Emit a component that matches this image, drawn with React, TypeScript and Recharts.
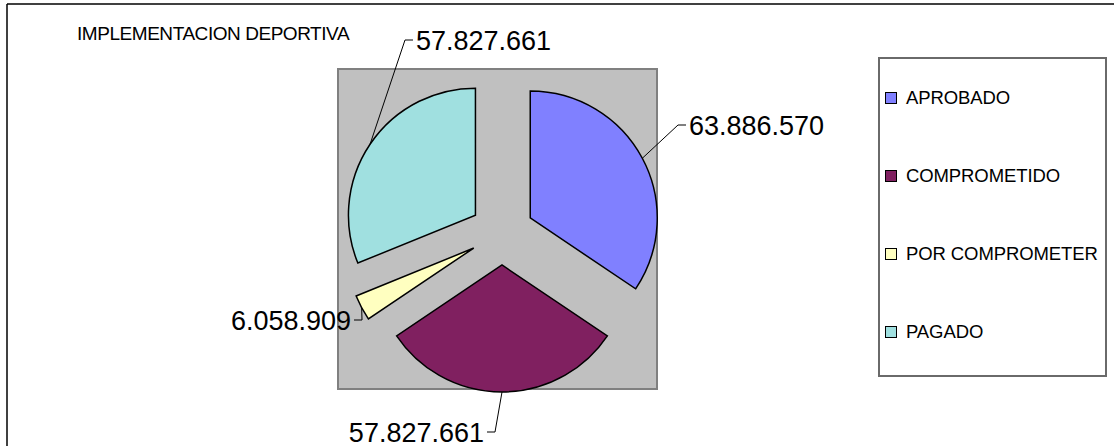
import { PieChart, Pie, Cell, Legend } from 'recharts';

const categories = ['APROBADO', 'COMPROMETIDO', 'POR COMPROMETER', 'PAGADO'];
const amounts = [63886570, 57827661, 6058909, 57827661];
const colors = ['#8080FF', '#802060', '#FFFFC0', '#A0E0E0'];
const chartTitle = 'IMPLEMENTACION DEPORTIVA';

const W = 1114;
const H = 446;
const CX = 497;
const CY = 228;
const R = 127;
const EXPLODE = 32;
const FONT = '"Liberation Sans", Arial, sans-serif';

// where each leader line bends, relative to the pie centre (side: text to the right = 1, left = -1)
const LABEL_ELBOWS = [
  { dx: 176, dy: -108, side: 1 },
  { dx: -7, dy: 199, side: -1 },
  { dx: -140, dy: 87, side: -1 },
  { dx: -97, dy: -193, side: 1 },
];

const total = amounts.reduce((s, v) => s + v, 0);
// middle of each slice, clockwise degrees from 12 o'clock
const midAngles = amounts.map((v, i) => {
  const before = amounts.slice(0, i).reduce((s, x) => s + x, 0);
  return ((before + v / 2) / total) * 360;
});
const offsets = midAngles.map(a => ({
  x: EXPLODE * Math.sin((a * Math.PI) / 180),
  y: -EXPLODE * Math.cos((a * Math.PI) / 180),
}));

const fmt = (v: number) => String(v).replace(/\B(?=(\d{3})+(?!\d))/g, '.');

const data = categories.map((name, i) => ({ name, value: amounts[i] }));

function renderLabel(props: any) {
  const { index, midAngle, outerRadius } = props;
  const cx = props.cx ?? CX;
  const cy = props.cy ?? CY;
  const o = offsets[index];
  const rad = (-midAngle * Math.PI) / 180;
  const x0 = cx + o.x + outerRadius * Math.cos(rad);
  const y0 = cy + o.y + outerRadius * Math.sin(rad);
  const e = LABEL_ELBOWS[index];
  const x1 = cx + e.dx;
  const y1 = cy + e.dy;
  const x2 = x1 + e.side * 8;
  return (
    <g key={`lbl-${index}`}>
      <polyline
        points={`${x0},${y0} ${x1},${y1} ${x2},${y1}`}
        fill="none"
        stroke="#000"
        strokeWidth={1}
      />
      <text
        x={x2 + e.side * 3}
        y={y1 + 9.5}
        textAnchor={e.side > 0 ? 'start' : 'end'}
        fontSize={27}
        fontFamily={FONT}
        fill="#000"
      >
        {fmt(amounts[index])}
      </text>
    </g>
  );
}

function LegendBox() {
  return (
    <div
      style={{
        boxSizing: 'border-box',
        width: 229,
        height: 320,
        border: '2px solid #6a6a6a',
        background: '#fff',
        display: 'flex',
        flexDirection: 'column',
        justifyContent: 'space-around',
        padding: '0 0 4px 5px',
      }}
    >
      {categories.map((c, i) => (
        <div key={c} style={{ display: 'flex', alignItems: 'center', fontFamily: FONT, fontSize: 18.5, color: '#000' }}>
          <span
            style={{
              display: 'inline-block',
              width: 10,
              height: 10,
              background: colors[i],
              border: '1px solid #000',
              marginRight: 9,
            }}
          />
          <span style={{ letterSpacing: -0.1, whiteSpace: 'nowrap' }}>{c}</span>
        </div>
      ))}
    </div>
  );
}

export default function App() {
  return (
    <div style={{ position: 'fixed', left: 0, top: 0, width: W, height: H, overflow: 'hidden', background: '#fff' }}>
      <svg width={W} height={H} style={{ position: 'absolute', left: 0, top: 0 }}>
        <line x1={7} y1={4} x2={W} y2={4} stroke="#000" strokeWidth={1.5} />
        <line x1={7} y1={4} x2={7} y2={H} stroke="#000" strokeWidth={1.5} />
        <rect x={338} y={69} width={319} height={320} fill="#C0C0C0" stroke="#808080" strokeWidth={2} />
        <text x={77} y={40} fontSize={19} fontFamily={FONT} letterSpacing={-0.45} fill="#000">
          {chartTitle}
        </text>
      </svg>
      <div style={{ position: 'absolute', left: 0, top: 0 }}>
        <PieChart width={W} height={H}>
          <Pie
            data={data}
            dataKey="value"
            nameKey="name"
            cx={CX}
            cy={CY}
            outerRadius={R}
            startAngle={90}
            endAngle={-270}
            label={renderLabel}
            labelLine={false}
            isAnimationActive={false}
          >
            {data.map((_, i) => (
              <Cell
                key={`cell-${i}`}
                fill={colors[i]}
                stroke="#000"
                strokeWidth={1.5}
                transform={`translate(${offsets[i].x},${offsets[i].y})`}
              />
            ))}
          </Pie>
          <Legend
            content={() => <LegendBox />}
            wrapperStyle={{ position: 'absolute', left: 878, top: 57, width: 229, height: 320 }}
          />
        </PieChart>
      </div>
    </div>
  );
}
